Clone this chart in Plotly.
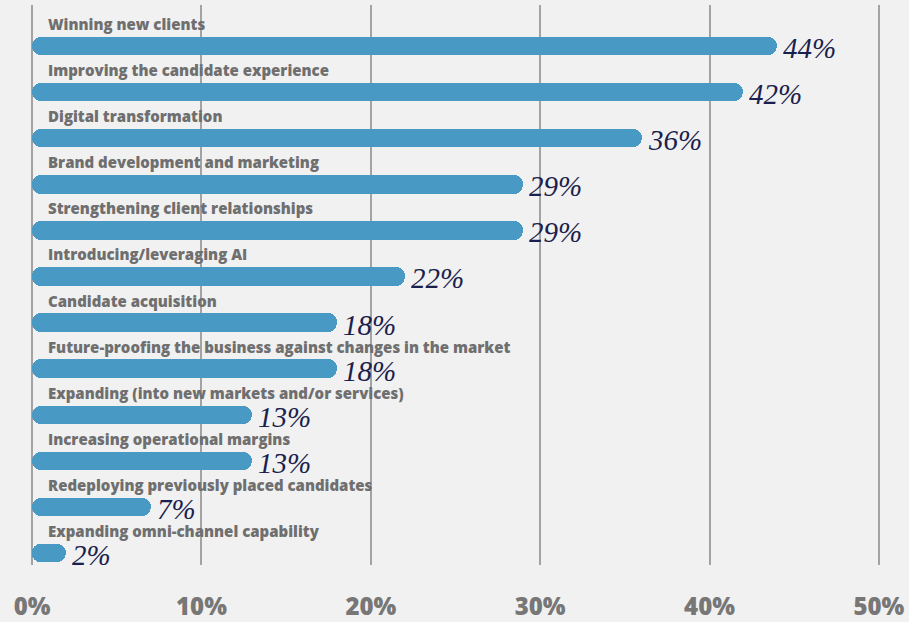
import plotly.graph_objects as go

categories = [
    "Winning new clients",
    "Improving the candidate experience",
    "Digital transformation",
    "Brand development and marketing",
    "Strengthening client relationships",
    "Introducing/leveraging AI",
    "Candidate acquisition",
    "Future-proofing the business against changes in the market",
    "Expanding (into new markets and/or services)",
    "Increasing operational margins",
    "Redeploying previously placed candidates",
    "Expanding omni-channel capability",
]
values = [44, 42, 36, 29, 29, 22, 18, 18, 13, 13, 7, 2]
tick_vals = [0, 10, 20, 30, 40, 50]
tick_text = ["0%", "10%", "20%", "30%", "40%", "50%"]

BAR = "#4899c4"
BG = "#f1f1f1"
GRID = "#a3a3a3"
pos = list(range(len(categories)))

fig = go.Figure()
# main bar: rounded at the far (right) end
fig.add_trace(go.Bar(
    x=values, y=pos, orientation="h", base=0,
    marker=dict(color=BAR, cornerradius=9, line=dict(width=0)),
    width=0.4, hoverinfo="skip", showlegend=False,
))
# half bar going back to zero: rounded at the left end
fig.add_trace(go.Bar(
    x=[-v / 2 for v in values], y=pos, orientation="h", base=[v / 2 for v in values],
    marker=dict(color=BAR, cornerradius=9, line=dict(width=0)),
    width=0.4, hoverinfo="skip", showlegend=False,
))

annotations = []
for i, (c, v) in enumerate(zip(categories, values)):
    annotations.append(dict(
        x=0, y=i, xref="x", yref="y", text=c, showarrow=False,
        xanchor="left", yanchor="middle", xshift=14, yshift=22,
        font=dict(family="Open Sans", size=15, color="#6f6f6f", weight=800),
    ))
    annotations.append(dict(
        x=v, y=i, xref="x", yref="y", text=f"<i>{v}%</i>", showarrow=False,
        xanchor="left", yanchor="middle", xshift=4, yshift=-2,
        height=24, valign="middle",
        font=dict(family="Liberation Serif", size=29, color="#1b1f4d"),
    ))

fig.update_layout(
    width=909, height=622,
    margin=dict(l=27, r=25, t=5, b=57, autoexpand=False),
    paper_bgcolor=BG, plot_bgcolor=BG,
    barmode="overlay", bargap=0,
    annotations=annotations,
    xaxis=dict(
        range=[-0.3, 50.3], tickvals=tick_vals, ticktext=tick_text,
        showgrid=True, gridcolor=GRID, gridwidth=2,
        zeroline=True, zerolinecolor=GRID, zerolinewidth=2, showline=False,
        ticks="outside", ticklen=20, tickcolor="rgba(0,0,0,0)",
        tickfont=dict(family="Open Sans", size=24, color="#777777", weight=800),
        fixedrange=True, automargin=False,
    ),
    yaxis=dict(
        range=[11.26, -0.89], showticklabels=False, showgrid=False,
        zeroline=False, showline=False, fixedrange=True, automargin=False,
    ),
)

fig.write_html("out.html")
